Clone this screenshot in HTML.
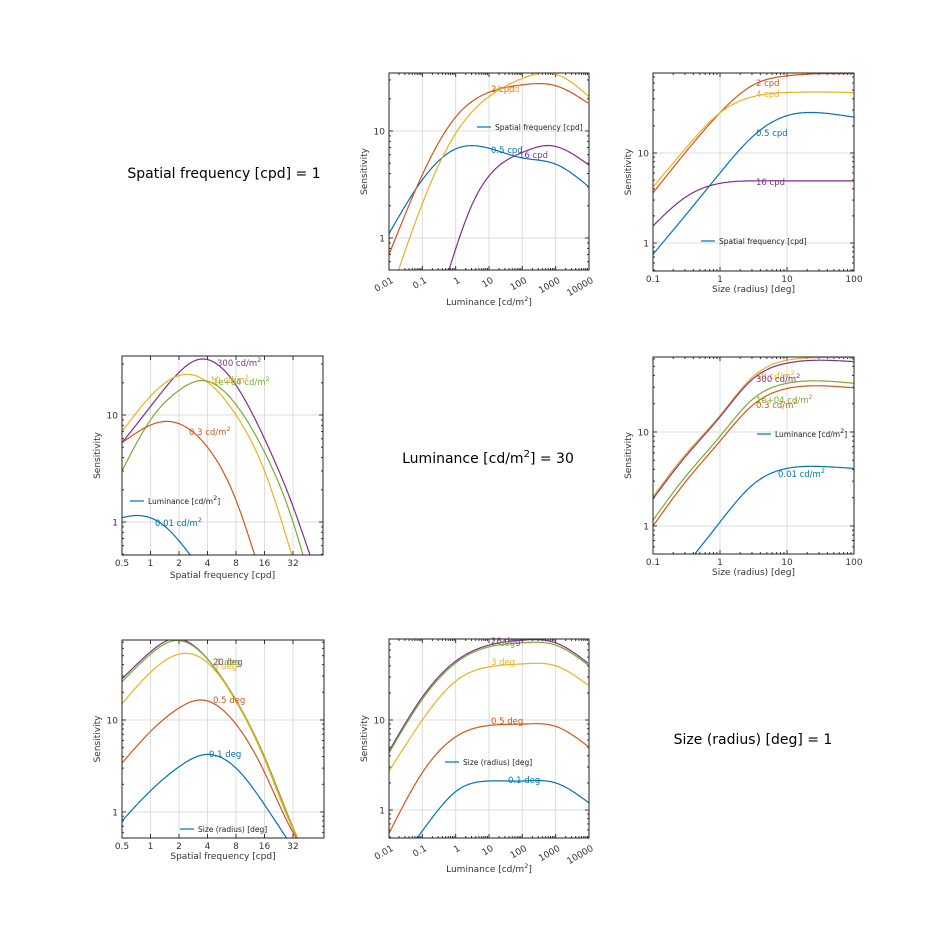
<!DOCTYPE html>
<html><head><meta charset="utf-8"><style>
html,body{margin:0;padding:0;background:#fff;}
svg{display:block;font-family:"DejaVu Sans","Liberation Sans",sans-serif;}
</style></head><body>
<svg id="s" width="945" height="945" xmlns="http://www.w3.org/2000/svg">
<rect width="945" height="945" fill="#fff"/>
<text x="224" y="178" font-size="14" text-anchor="middle">Spatial frequency [cpd] = 1</text>
<text x="488" y="463" font-size="14" text-anchor="middle">Luminance [cd/m<tspan dy="-6" font-size="10">2</tspan><tspan dy="6">] = 30</tspan></text>
<text x="753" y="744" font-size="14" text-anchor="middle">Size (radius) [deg] = 1</text>
</svg>
<script>
const S=document.getElementById('s');const NS='http://www.w3.org/2000/svg';
function el(t,a,txt){const e=document.createElementNS(NS,t);for(const k in a)e.setAttribute(k,a[k]);if(txt!=null)e.textContent=txt;S.appendChild(e);return e;}
const C={b:'#0072bd',o:'#d95319',y:'#edb120',p:'#7e2f8e',g:'#77ac30'};
function spline(xs,ys){const n=xs.length;if(n<3)return t=>ys[0]+(ys[1]-ys[0])*(t-xs[0])/(xs[1]-xs[0]);
 const h=[],a=[],l=[1],mu=[0],z=[0],c=new Array(n).fill(0),b=[],d=[];
 for(let i=0;i<n-1;i++)h[i]=xs[i+1]-xs[i];
 for(let i=1;i<n-1;i++)a[i]=3/h[i]*(ys[i+1]-ys[i])-3/h[i-1]*(ys[i]-ys[i-1]);
 for(let i=1;i<n-1;i++){l[i]=2*(xs[i+1]-xs[i-1])-h[i-1]*mu[i-1];mu[i]=h[i]/l[i];z[i]=(a[i]-h[i-1]*z[i-1])/l[i];}
 l[n-1]=1;z[n-1]=0;
 for(let j=n-2;j>=0;j--){c[j]=z[j]-mu[j]*c[j+1];b[j]=(ys[j+1]-ys[j])/h[j]-h[j]*(c[j+1]+2*c[j])/3;d[j]=(c[j+1]-c[j])/(3*h[j]);}
 return t=>{let j=0;while(j<n-2&&t>xs[j+1])j++;const dx=t-xs[j];return ys[j]+b[j]*dx+c[j]*dx*dx+d[j]*dx*dx*dx;};}
function panel(P){
 const L=Math.log10;
 const fx=P.xlog2?(v=>P.x0+(Math.log2(v)-Math.log2(P.xa))*P.xs):(v=>P.x0+(L(v)-L(P.xa))*P.xs);
 const fy=v=>P.y10-(L(v)-1)*P.ys;
 const x1=P.x1,y0=P.y0,y1=P.y1,x0=P.x0;
 P.xt.forEach(t=>{const x=fx(t[0]);el('line',{x1:x,x2:x,y1:y0,y2:y1,stroke:'#dcdcdc','stroke-width':1});});
 [1,10].forEach(v=>{const y=fy(v);el('line',{x1:x0,x2:x1,y1:y,y2:y,stroke:'#dcdcdc','stroke-width':1});});
 for(let d=-1;d<=2;d++)for(let m=1;m<10;m++){const v=m*Math.pow(10,d);const y=fy(v);if(y>y0&&y<y1){const l=m==1?4:2;el('line',{x1:x0,x2:x0+l,y1:y,y2:y,stroke:'#333'});el('line',{x1:x1,x2:x1-l,y1:y,y2:y,stroke:'#333'});}}
 if(!P.xlog2){for(let d=-3;d<=5;d++)for(let m=1;m<10;m++){const v=m*Math.pow(10,d);const x=fx(v);if(x>x0&&x<x1){const l=m==1?4:2;el('line',{x1:x,x2:x,y1:y1,y2:y1-l,stroke:'#333'});el('line',{x1:x,x2:x,y1:y0,y2:y0+l,stroke:'#333'});}}}
 else P.xt.forEach(t=>{const x=fx(t[0]);el('line',{x1:x,x2:x,y1:y1,y2:y1-4,stroke:'#333'});el('line',{x1:x,x2:x,y1:y0,y2:y0+4,stroke:'#333'});});
 const cp=el('clipPath',{id:'c'+P.id});const r=document.createElementNS(NS,'rect');r.setAttribute('x',x0);r.setAttribute('y',y0);r.setAttribute('width',x1-x0);r.setAttribute('height',y1-y0);cp.appendChild(r);
 P.curves.forEach(c=>{
  const px=c[1].map(p=>fx(p[0])),py=c[1].map(p=>fy(p[1]));
  const f=spline(px,py);let d='';
  for(let x=px[0];x<=px[px.length-1]+0.01;x+=1){const xx=Math.min(x,px[px.length-1]);d+=(d?'L':'M')+xx.toFixed(1)+','+f(xx).toFixed(1);}
  el('path',{d:d,fill:'none',stroke:C[c[0]],'stroke-width':1.2,'clip-path':'url(#c'+P.id+')'});
 });
 el('rect',{x:x0,y:y0,width:x1-x0,height:y1-y0,fill:'none',stroke:'#222','stroke-width':1});
 [1,10].forEach(v=>el('text',{x:x0-4,y:fy(v)+3.5,'font-size':9,'text-anchor':'end',fill:'#333'},String(v)));
 el('text',{x:0,y:0,'font-size':9,'text-anchor':'middle',fill:'#333',transform:`translate(${x0-22},${(y0+y1)/2}) rotate(-90)`},'Sensitivity');
 P.xt.forEach(t=>{const x=fx(t[0]);if(P.rot)el('text',{x:0,y:0,'font-size':9,'text-anchor':'end',fill:'#333',transform:`translate(${x+5},${y1+12}) rotate(-30)`},t[1]);else el('text',{x:x,y:y1+11,'font-size':9,'text-anchor':'middle',fill:'#333'},t[1]);});
 const xl=el('text',{x:(x0+x1)/2,y:P.xly,'font-size':9,'text-anchor':'middle',fill:'#333'});
 xl.innerHTML=P.xlab;
 P.labels.forEach(l=>{const t=el('text',{x:l[1],y:l[2],'font-size':8.5,fill:C[l[0]]});t.innerHTML=l[3];});
 if(P.leg){el('line',{x1:P.leg[0],x2:P.leg[0]+14,y1:P.leg[1]-3,y2:P.leg[1]-3,stroke:C.b,'stroke-width':1.2});const t=el('text',{x:P.leg[0]+18,y:P.leg[1],'font-size':7.5,fill:'#222'});t.innerHTML=P.leg[2];}
}
const LUMX=[[0.01,'0.01'],[0.1,'0.1'],[1,'1'],[10,'10'],[100,'100'],[1000,'1000'],[10000,'10000']];
const SZX=[[0.1,'0.1'],[1,'1'],[10,'10'],[100,'100']];
const SFX=[[0.5,'0.5'],[1,'1'],[2,'2'],[4,'4'],[8,'8'],[16,'16'],[32,'32']];
const LUMLAB='Luminance [cd/m<tspan dy="-4" font-size="6.5">2</tspan><tspan dy="4">]</tspan>';
const M2='<tspan dy="-4" font-size="6.5">2</tspan>';
panel({id:1,x0:389,x1:589,y0:73,y1:270,xa:0.01,xs:33.33,y10:131,ys:107,xt:LUMX,rot:1,xly:305,xlab:LUMLAB,
 curves:[['b',[[0.01,1.1],[0.1,3.5],[1,6.8],[3,7.3],[10,6.9],[100,5.6],[1000,4.9],[10000,3]]],
 ['o',[[0.01,0.7],[0.1,3.9],[1,13.5],[10,23],[100,27],[1000,26.5],[10000,18]]],
 ['y',[[0.015,0.4],[0.1,2.1],[1,9.5],[10,21],[100,31],[1000,34],[10000,21]]],
 ['p',[[0.5,0.4],[3,2],[10,3.8],[100,6.3],[700,7.3],[10000,4.8]]]],
 labels:[['o',491,92,'2 cpd'],['y',496,92,'4 cpd'],['b',491,153,'0.5 cpd'],['p',519,158,'16 cpd']],
 leg:[477,130,'Spatial frequency [cpd]']});
panel({id:2,x0:653,x1:854,y0:73,y1:271,xa:0.1,xs:67,y10:153,ys:90,xt:SZX,xly:292,xlab:'Size (radius) [deg]',
 curves:[['b',[[0.1,0.75],[0.3,2],[1,6],[3,15],[10,26],[30,28],[100,25]]],
 ['o',[[0.1,3.6],[0.3,10],[1,28],[3,56],[10,72],[30,76],[100,76]]],
 ['y',[[0.1,4.2],[0.3,11],[1,28],[3,42],[10,47],[100,47]]],
 ['p',[[0.1,1.55],[0.3,3.2],[1,4.6],[3,4.9],[10,4.9],[100,4.9]]]],
 labels:[['o',756,86,'2 cpd'],['y',756,97,'4 cpd'],['b',756,136,'0.5 cpd'],['p',756,185,'16 cpd']],
 leg:[701,244,'Spatial frequency [cpd]']});
panel({id:3,x0:122,x1:323,y0:356,y1:555,xa:0.5,xlog2:1,xs:28.5,y10:415,ys:107,xt:SFX,xly:578,xlab:'Spatial frequency [cpd]',
 curves:[['p',[[0.5,5.5],[1,12],[2,25],[3.2,33],[8,19],[16,6],[32,1.4],[50,0.45]]],
 ['y',[[0.5,7],[1,15],[2.5,24],[8,10],[16,3],[32,0.45]]],
 ['g',[[0.5,3],[1,9],[2,17],[3.5,21],[8,12.5],[16,4.5],[32,1],[42,0.45]]],
 ['o',[[0.5,5.5],[1.4,8.7],[4,5],[8,1.6],[13,0.45]]],
 ['b',[[0.5,1.1],[0.7,1.15],[1.4,0.92],[3,0.42]]]],
 labels:[['p',217,366,'300 cd/m'+M2],['y',210,383,'10 cd/m'+M2],['g',213,385,'1e+04 cd/m'+M2],['o',189,435,'0.3 cd/m'+M2],['b',155,526,'0.01 cd/m'+M2]],
 leg:[130,504,LUMLAB]});
panel({id:4,x0:653,x1:854,y0:357,y1:554,xa:0.1,xs:67,y10:432,ys:94,xt:SZX,xly:575,xlab:'Size (radius) [deg]',
 curves:[['y',[[0.1,2.05],[0.3,5.7],[1,15],[3,38],[10,58],[30,62],[100,62]]],
 ['p',[[0.1,1.95],[0.3,5.4],[1,14.5],[3,36],[10,54],[30,58],[100,56]]],
 ['g',[[0.1,1.15],[0.3,3.3],[1,9],[3,22],[10,33],[30,35],[100,33]]],
 ['o',[[0.1,1],[0.3,2.9],[1,8],[3,19],[10,29],[30,31],[100,29.5]]],
 ['b',[[0.4,0.48],[1,1.1],[3,2.7],[10,4.1],[30,4.3],[100,4.1]]]],
 labels:[['y',756,379,'10 cd/m'+M2],['p',756,382,'300 cd/m'+M2],['g',756,403,'1e+04 cd/m'+M2],['o',756,408,'0.3 cd/m'+M2],['b',778,477,'0.01 cd/m'+M2]],
 leg:[757,437,LUMLAB]});
panel({id:5,x0:122,x1:324,y0:640,y1:838,xa:0.5,xlog2:1,xs:28.5,y10:720,ys:92,xt:SFX,xly:859,xlab:'Spatial frequency [cpd]',
 curves:[['p',[[0.5,28],[1,55],[1.7,76],[4,46],[8,16],[16,3.8],[32,0.65],[38,0.45]]],
 ['g',[[0.5,26],[1,52],[1.8,73],[4,46],[8,16.5],[16,4],[32,0.68],[38,0.45]]],
 ['y',[[0.5,15],[1,33],[2.3,53],[4,42],[8,16],[16,3.8],[32,0.65],[38,0.45]]],
 ['o',[[0.5,3.4],[1,7.5],[2,13.5],[3.4,16.5],[8,9],[16,2.7],[32,0.6],[38,0.45]]],
 ['b',[[0.5,0.8],[1,1.7],[2,3.1],[3.7,4.2],[8,3],[16,1.2],[30,0.45]]]],
 labels:[['p',213,665,'20 deg'],['g',216,665,'1 deg'],['y',213,669,'3 deg'],['o',213,703,'0.5 deg'],['b',209,757,'0.1 deg']],
 leg:[180,832,'Size (radius) [deg]']});
panel({id:6,x0:389,x1:589,y0:639,y1:838,xa:0.01,xs:33.33,y10:720,ys:90,xt:LUMX,rot:1,xly:872,xlab:LUMLAB,
 curves:[['p',[[0.01,4.5],[0.1,18],[1,45],[10,68],[100,77],[1000,72],[10000,42]]],
 ['g',[[0.01,4.3],[0.1,17],[1,43],[10,65],[100,72],[1000,68],[10000,40]]],
 ['y',[[0.01,2.7],[0.1,10],[1,27],[10,39],[100,42],[1000,40],[10000,24]]],
 ['o',[[0.01,0.55],[0.1,2.6],[1,6.5],[10,8.7],[100,9],[1000,8.5],[10000,5]]],
 ['b',[[0.06,0.45],[0.3,1],[1,1.6],[10,2.1],[100,2.1],[1000,2],[10000,1.2]]]],
 labels:[['p',491,644,'20 deg'],['g',491,646,'1 deg'],['y',491,665,'3 deg'],['o',491,724,'0.5 deg'],['b',508,783,'0.1 deg']],
 leg:[445,765,'Size (radius) [deg]']});
</script>
</body></html>
